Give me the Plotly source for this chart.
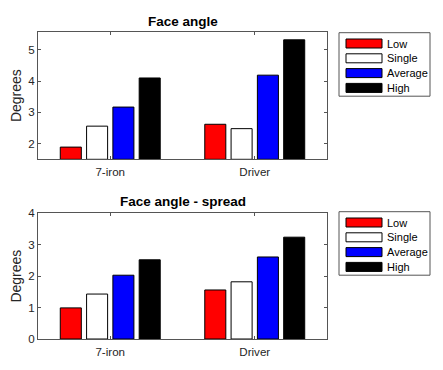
import plotly.graph_objects as go
from plotly.subplots import make_subplots

categories = ["7-iron", "Driver"]
series_names = ["Low", "Single", "Average", "High"]
series_colors = ["#ff0000", "#ffffff", "#0000ff", "#000000"]
face_angle = {
    "Low": [1.89, 2.62],
    "Single": [2.56, 2.48],
    "Average": [3.17, 4.19],
    "High": [4.10, 5.32],
}
face_angle_spread = {
    "Low": [0.99, 1.56],
    "Single": [1.43, 1.82],
    "Average": [2.03, 2.61],
    "High": [2.52, 3.24],
}
titles = ["Face angle", "Face angle - spread"]
y_ranges = [[1.5, 5.57], [0, 4]]
y_ticks = [[2, 3, 4, 5], [0, 1, 2, 3, 4]]

# page body has an 8px default margin; work in window pixels and offset
OFF = 8
WIN_W, WIN_H = 443, 370
W, H = WIN_W - OFF, WIN_H - OFF
AX_L, AX_R, AX_T, AX_B = 38, 327, 32, 339  # window pixel extents of plots
L, R, T, B = AX_L - OFF, WIN_W - AX_R, AX_T - OFF, WIN_H - AX_B
PW, PH = AX_R - AX_L, AX_B - AX_T
FONT = "Liberation Sans"
TXT = "#262626"
AX = "#555555"


def px(x):
    return (x - AX_L) / PW


def py(y):
    return (AX_B - y) / PH


fig = make_subplots(rows=2, cols=1)

for r, data in enumerate([face_angle, face_angle_spread], start=1):
    base = y_ranges[r - 1][0] if r == 1 else 0
    for name, col in zip(series_names, series_colors):
        fig.add_trace(
            go.Bar(
                x=categories,
                y=[v - base for v in data[name]],
                base=base,
                name=name,
                marker=dict(color=col, line=dict(color="#000000", width=1)),
                showlegend=False,
            ),
            row=r,
            col=1,
        )

fig.update_layout(
    width=W,
    height=H,
    margin=dict(l=L, r=R, t=T, b=B, autoexpand=False),
    barmode="group",
    bargap=0.272,
    bargroupgap=0.2,
    plot_bgcolor="white",
    paper_bgcolor="white",
    font=dict(family=FONT, color=TXT, size=11.6),
)

top_dom = [py(159.3), 1.0]
bot_dom = [0.0, py(213.3)]

for i, (dom, xa, ya) in enumerate([(top_dom, "xaxis", "yaxis"), (bot_dom, "xaxis2", "yaxis2")]):
    fig.layout[ya].update(
        domain=dom,
        range=y_ranges[i],
        tickvals=y_ticks[i],
        ticks="inside",
        ticklen=3,
        tickcolor=AX,
        showline=True,
        linecolor=AX,
        linewidth=1,
        mirror="ticks",
        showgrid=False,
        zeroline=False,
        automargin=False,
        title=dict(text="Degrees", font=dict(size=14, color=TXT), standoff=4),
        tickfont=dict(size=11.6, color=TXT),
    )
    fig.layout[xa].update(
        range=[-0.5, 1.5],
        ticks="inside",
        ticklen=3,
        tickcolor=AX,
        showline=True,
        linecolor=AX,
        linewidth=1,
        mirror="ticks",
        showgrid=False,
        zeroline=False,
        automargin=False,
        ticklabelstandoff=2,
        tickfont=dict(size=11.6, color=TXT),
    )

# titles
for title, ypix in zip(titles, [21.5, 201.0]):
    fig.add_annotation(
        text="<b>" + title + "</b>",
        xref="paper",
        yref="paper",
        x=0.5,
        y=py(ypix),
        xanchor="center",
        yanchor="middle",
        showarrow=False,
        font=dict(size=13.5, color="#000000", family=FONT),
    )

# legends (manual, wide swatches like the original)
for box_top in [32.7, 211.7]:
    fig.add_shape(
        type="rect",
        xref="paper",
        yref="paper",
        x0=px(339),
        x1=px(430),
        y0=py(box_top + 63.5),
        y1=py(box_top),
        line=dict(color=AX, width=1),
        fillcolor="white",
        layer="below",
    )
    for k, (name, col) in enumerate(zip(series_names, series_colors)):
        yc = box_top + 10.8 + k * 14.8
        fig.add_shape(
            type="rect",
            xref="paper",
            yref="paper",
            x0=px(346),
            x1=px(382),
            y0=py(yc + 4.5),
            y1=py(yc - 4.5),
            line=dict(color="#000000", width=1),
            fillcolor=col,
        )
        fig.add_annotation(
            text=name,
            xref="paper",
            yref="paper",
            x=px(385),
            y=py(yc),
            xanchor="left",
            yanchor="middle",
            showarrow=False,
            font=dict(size=11, color="#000000", family=FONT),
        )

fig.write_html("out.html")
